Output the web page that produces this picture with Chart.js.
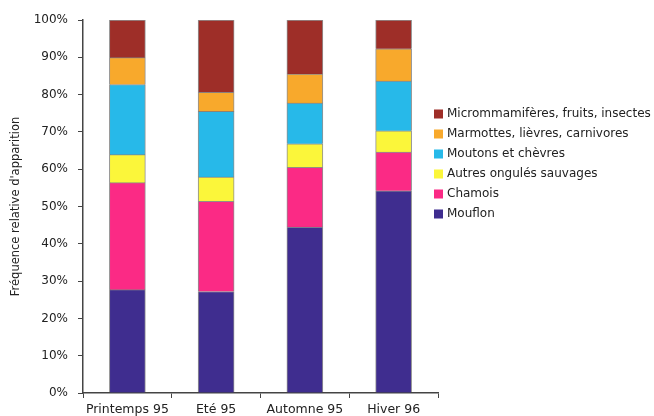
<!DOCTYPE html>
<html>
<head>
<meta charset="utf-8">
<script src="https://cdn.jsdelivr.net/npm/chart.js@4/dist/chart.umd.min.js"></script>
<style>
  html, body { margin: 0; padding: 0; background: #fff; }
  #wrap { width: 654px; height: 416px; }
</style>
</head>
<body>
<div id="wrap"><canvas id="c" width="654" height="416"></canvas></div>
<script>
// Seasons on the x axis
const categories = ['Printemps 95', 'Eté 95', 'Automne 95', 'Hiver 96'];

// Share of each prey group per season (%)
const mouflon        = [27.7, 27.2, 44.5, 54.2];
const chamois        = [28.7, 24.2, 16.0, 10.4];
const autresOngules  = [7.5, 6.5, 6.3, 5.7];
const moutonsChevres = [18.8, 17.6, 10.9, 13.3];
const marmottes      = [7.2, 5.1, 7.8, 8.7];
const micro          = [10.1, 19.4, 14.5, 7.7];

// Y axis ticks (%)
const yTicks = [0, 10, 20, 30, 40, 50, 60, 70, 80, 90, 100];

const seriesNames = [
  'Mouflon',
  'Chamois',
  'Autres ongulés sauvages',
  'Moutons et chèvres',
  'Marmottes, lièvres, carnivores',
  'Micrommamifères, fruits, insectes'
];
const seriesValues = [mouflon, chamois, autresOngules, moutonsChevres, marmottes, micro];
const seriesColors = ['#3f2d8f', '#fb2a85', '#fbf63a', '#27b9e9', '#f8a92c', '#9e2e28'];

const FONT = 'DejaVu Sans';
const TEXT = '#222';
const AXIS = '#444';

// Legend drawn at the right, top entry = top of the stack
const sideLegend = {
  id: 'sideLegend',
  afterDraw(chart) {
    const ctx = chart.ctx;
    ctx.save();
    ctx.font = '12px "' + FONT + '"';
    ctx.textBaseline = 'middle';
    ctx.textAlign = 'left';
    const x = 434, y0 = 114, step = 20;
    const n = chart.data.datasets.length;
    for (let i = 0; i < n; i++) {
      const ds = chart.data.datasets[n - 1 - i];
      const y = y0 + i * step;
      ctx.fillStyle = ds.backgroundColor;
      ctx.fillRect(x, y - 4.5, 9, 9);
      ctx.fillStyle = TEXT;
      ctx.fillText(ds.label, x + 13, y);
    }
    ctx.restore();
  }
};

new Chart(document.getElementById('c'), {
  type: 'bar',
  data: {
    labels: categories,
    datasets: seriesNames.map((name, i) => ({
      label: name,
      data: seriesValues[i],
      backgroundColor: seriesColors[i],
      borderColor: 'rgba(70,70,70,0.6)',
      borderWidth: 1,
      barThickness: 36
    }))
  },
  options: {
    responsive: false,
    animation: false,
    devicePixelRatio: 1,
    layout: { padding: { top: 20, right: 216, left: 0, bottom: 0 } },
    plugins: {
      legend: { display: false },
      tooltip: { enabled: false }
    },
    scales: {
      x: {
        stacked: true,
        offset: true,
        grid: {
          display: true,
          offset: true,
          drawOnChartArea: false,
          tickLength: 5,
          color: AXIS,
          lineWidth: 1
        },
        border: { color: AXIS, width: 1.5 },
        ticks: { color: TEXT, font: { family: FONT, size: 12.5 }, padding: 4, maxRotation: 0 },
        afterFit(scale) { scale.height = 23; }
      },
      y: {
        stacked: true,
        min: 0,
        max: 100,
        afterBuildTicks(scale) { scale.ticks = yTicks.map(v => ({ value: v })); },
        grid: {
          display: true,
          drawOnChartArea: false,
          tickLength: 5,
          color: AXIS,
          lineWidth: 1
        },
        border: { color: AXIS, width: 1.5 },
        ticks: {
          color: TEXT,
          font: { family: FONT, size: 12 },
          padding: 10,
          callback: v => v + '%'
        },
        title: {
          display: true,
          text: "Fréquence relative d'apparition",
          color: TEXT,
          font: { family: FONT, size: 11.5 },
          padding: { top: 9, bottom: 0 }
        },
        afterFit(scale) { scale.width = 83; }
      }
    }
  },
  plugins: [sideLegend]
});
</script>
</body>
</html>
